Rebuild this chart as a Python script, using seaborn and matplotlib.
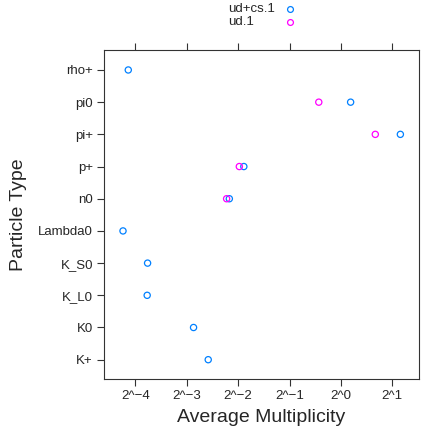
import numpy as np
import pandas as pd
import matplotlib
matplotlib.use("Agg")
import matplotlib.pyplot as plt
import seaborn as sns
from matplotlib.lines import Line2D

# particle types, bottom to top
particles = ["K+", "K0", "K_L0", "K_S0", "Lambda0", "n0", "p+", "pi+", "pi0", "rho+"]
# average multiplicity, ud+cs.1 sample
cs_vals = [0.167, 0.137, 0.0733, 0.0737, 0.0529, 0.222, 0.270, 2.23, 1.14, 0.0568]
# ud.1 sample (only some particles)
ud_particles = ["n0", "p+", "pi+", "pi0"]
ud_vals = [0.214, 0.254, 1.59, 0.742]

groups = ["ud+cs.1", "ud.1"]
colors = {"ud+cs.1": "#0080ff", "ud.1": "#ff00ff"}

df = pd.concat([
    pd.DataFrame({"particle": particles, "mult": cs_vals, "sample": "ud+cs.1"}),
    pd.DataFrame({"particle": ud_particles, "mult": ud_vals, "sample": "ud.1"}),
], ignore_index=True)
df["ypos"] = df["particle"].map({p: i for i, p in enumerate(particles)})

sns.set_style("white")
plt.rcParams["font.family"] = ["Liberation Sans", "DejaVu Sans"]

fig = plt.figure(figsize=(4.27, 4.33), dpi=100)
ax = fig.add_axes([0.2436, 0.1247, 0.7377, 0.7598])

sns.scatterplot(data=df, x="mult", y="ypos", hue="sample", hue_order=groups,
                palette=colors, s=20, legend=False, ax=ax)
# open circles like lattice
for coll in ax.collections:
    fc = coll.get_facecolors()
    coll.set_edgecolors(fc)
    coll.set_facecolors("none")
    coll.set_linewidths(0.9)

ax.set_xscale("log", base=2)
ax.set_xlim(2 ** -4.61, 2 ** 1.52)
xt = [-4, -3, -2, -1, 0, 1]
ax.set_xticks([2.0 ** k for k in xt])
ax.set_xticklabels(["2^%d" % k if k >= 0 else "2^\u2212%d" % -k for k in xt])
ax.minorticks_off()
ax.set_yticks(range(len(particles)))
ax.set_yticklabels(particles)
ax.set_ylim(-0.6, len(particles) - 1 + 0.62)

ax.tick_params(axis="both", which="major", direction="out", length=5, width=0.8,
               color="#333333", labelsize=9.5, pad=3, bottom=True, left=True)
ax.tick_params(axis="x", top=True)
for sp in ax.spines.values():
    sp.set_color("#333333")
    sp.set_linewidth(0.8)

ax.set_xlabel("Average Multiplicity", fontsize=14, labelpad=5)
ax.set_ylabel("Particle Type", fontsize=14, labelpad=8)

# key at the top, text left of the symbols
for i, g in enumerate(groups):
    y = 1 - (9 + 13 * i) / 433
    fig.text(228 / 427, y, g, fontsize=9.5, ha="left", va="center")
    fig.add_artist(Line2D([290 / 427], [y], transform=fig.transFigure, marker="o",
                          linestyle="none", markerfacecolor="none",
                          markeredgecolor=colors[g], markersize=4.2,
                          markeredgewidth=0.9))

fig.savefig("out.png", dpi=100)
